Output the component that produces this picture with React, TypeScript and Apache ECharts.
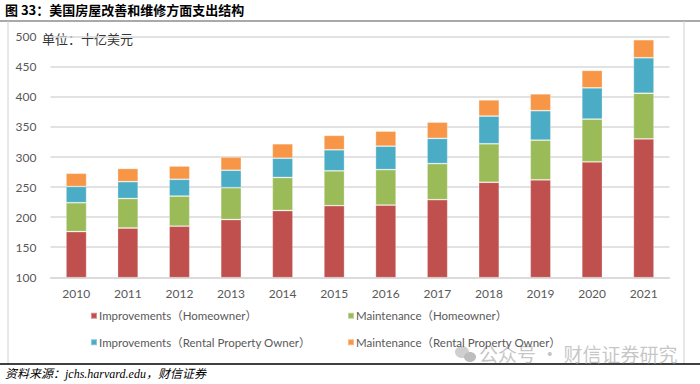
import React, { useEffect, useRef } from "react";
import * as echarts from "echarts";

const years = ["2010", "2011", "2012", "2013", "2014", "2015", "2016", "2017", "2018", "2019", "2020", "2021"];
const improvementsHomeowner = [176, 182, 185, 196, 211, 219, 220, 229, 258, 262, 292, 330];
const maintenanceHomeowner = [48, 49, 50, 53, 55, 58, 59, 60, 64, 66, 71, 76];
const improvementsRental = [27, 28, 28, 29, 32, 35, 39, 42, 46, 49, 52, 59];
const maintenanceRental = [22, 22, 22, 22, 24, 24, 25, 27, 27, 28, 29, 30];

const seriesNames = [
  "Improvements（Homeowner）",
  "Maintenance（Homeowner）",
  "Improvements（Rental Property Owner）",
  "Maintenance（Rental Property Owner）",
];
const seriesColors = ["#C0504D", "#9BBB59", "#4BACC6", "#F79646"];
const seriesData = [improvementsHomeowner, maintenanceHomeowner, improvementsRental, maintenanceRental];

const title = "图 33：美国房屋改善和维修方面支出结构";
const unitText = "单位：十亿美元";
const sourceText = "资料来源：jchs.harvard.edu，财信证券";
const watermark = "公众号 · 财信证券研究";

export default function App() {
  const ref = useRef<HTMLDivElement>(null);
  useEffect(() => {
    if (!ref.current) return;
    const chart = echarts.init(ref.current, null, { renderer: "svg" });
    const font = "Lato, 'Noto Sans CJK SC', sans-serif";
    const cjk = "'Noto Sans CJK SC', sans-serif";
    const legendText = { fontSize: 11.5, color: "#595959", fontFamily: font, padding: [0, 0, 0, -3] };
    chart.setOption({
      animation: false,
      backgroundColor: "#ffffff",
      grid: { left: 50.5, right: 30.5, top: 36.7, bottom: 106.7, containLabel: false },
      legend: [
        {
          data: [seriesNames[0], seriesNames[2]],
          orient: "vertical",
          left: 90,
          top: 310,
          padding: 0,
          itemWidth: 6,
          itemHeight: 6,
          itemGap: 15,
          icon: "rect",
          textStyle: legendText,
        },
        {
          data: [seriesNames[1], seriesNames[3]],
          orient: "vertical",
          left: 347,
          top: 310,
          padding: 0,
          itemWidth: 6,
          itemHeight: 6,
          itemGap: 15,
          icon: "rect",
          textStyle: legendText,
        },
      ],
      xAxis: {
        type: "category",
        data: years,
        axisLine: { show: true, lineStyle: { color: "#d9d9d9", width: 1.5 } },
        axisTick: { show: false },
        axisLabel: { fontSize: 12, color: "#595959", fontFamily: font, margin: 10 },
      },
      yAxis: {
        type: "value",
        min: 100,
        max: 500,
        interval: 50,
        axisLine: { show: false },
        axisTick: { show: false },
        axisLabel: { fontSize: 12, color: "#595959", fontFamily: font, margin: 14 },
        splitLine: { lineStyle: { color: "#d9d9d9", width: 1.5 } },
      },
      series: seriesNames.map((name, i) => ({
        name,
        type: "bar",
        stack: "total",
        data: seriesData[i],
        barWidth: "40%",
        itemStyle: { color: seriesColors[i], borderColor: "rgba(255,255,255,0.35)", borderWidth: 0.8 },
      })),
      graphic: [
        {
          type: "text",
          left: 5,
          top: 3,
          style: { text: title, fontSize: 13, fontWeight: "bold", fill: "#000", fontFamily: cjk },
        },
        {
          type: "line",
          shape: { x1: 0, y1: 21, x2: 700, y2: 21 },
          style: { stroke: "#8c8c8c", lineWidth: 1.5 },
        },
        {
          type: "line",
          shape: { x1: 8, y1: 21, x2: 8, y2: 364 },
          style: { stroke: "#d0d0d0", lineWidth: 1 },
        },
        {
          type: "line",
          shape: { x1: 684, y1: 21, x2: 684, y2: 364 },
          style: { stroke: "#d0d0d0", lineWidth: 1 },
        },
        {
          type: "line",
          shape: { x1: 0, y1: 364, x2: 700, y2: 364 },
          style: { stroke: "#000", lineWidth: 1.5 },
        },
        {
          type: "text",
          left: 42,
          top: 32,
          style: { text: unitText, fontSize: 13, fill: "#333", fontFamily: cjk },
        },
        {
          type: "ellipse",
          shape: { cx: 462, cy: 352, rx: 7, ry: 6 },
          style: { fill: "#cfcfcf" },
        },
        {
          type: "ellipse",
          shape: { cx: 470, cy: 357, rx: 6, ry: 5 },
          style: { fill: "#bdbdbd" },
        },
        {
          type: "text",
          left: 479,
          top: 344,
          style: { text: watermark, fontSize: 19, fill: "rgba(180,180,180,0.75)", fontFamily: cjk },
        },
        {
          type: "text",
          left: 5,
          top: 368,
          style: {
            text: sourceText,
            fontSize: 12,
            fontStyle: "italic",
            fill: "#000",
            fontFamily: "'Liberation Serif', 'Noto Sans CJK SC', serif",
          },
        },
      ],
    });
    return () => chart.dispose();
  }, []);
  return <div ref={ref} style={{ position: "fixed", left: 0, top: 0, width: 700, height: 384 }} />;
}
